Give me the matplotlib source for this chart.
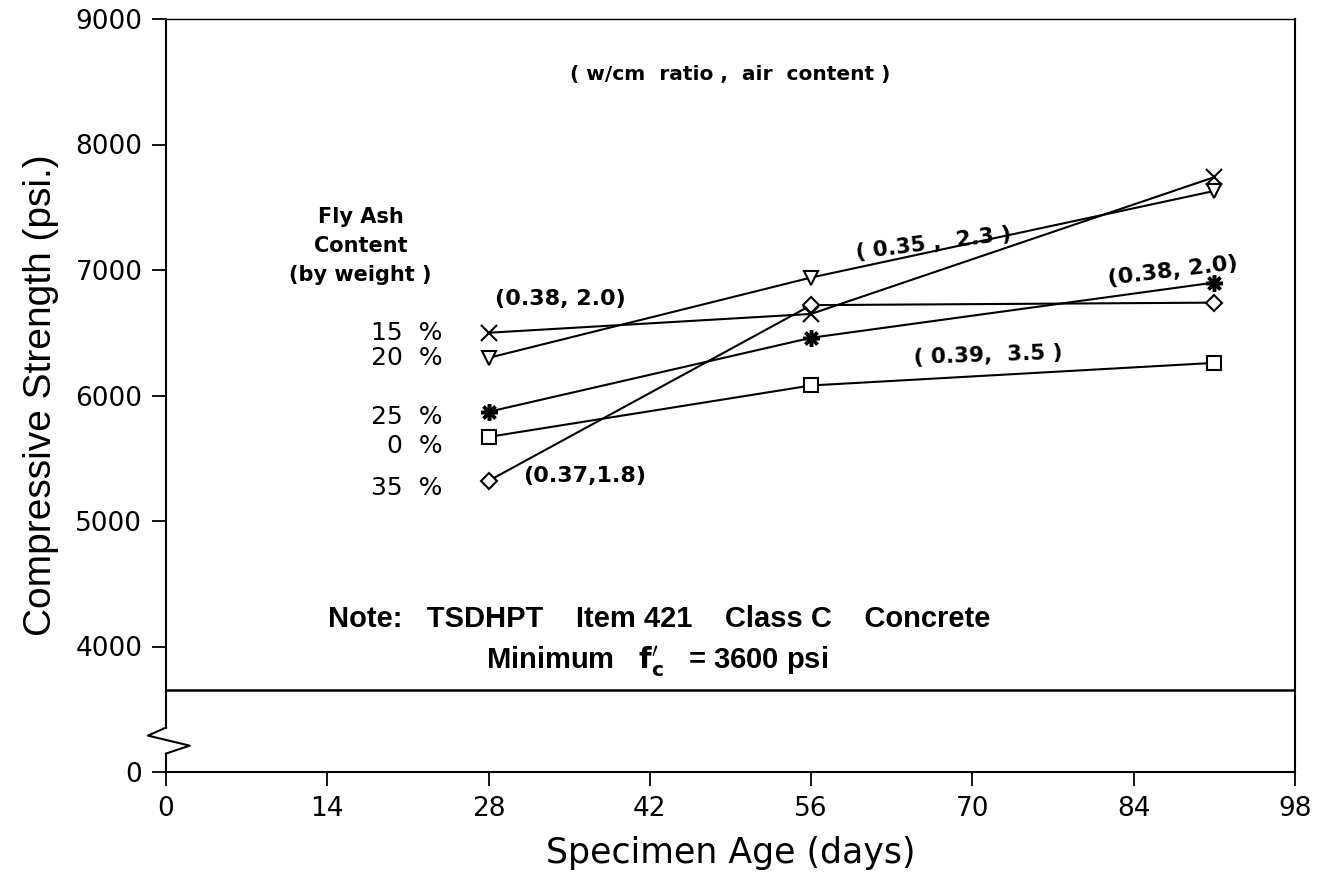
import matplotlib
matplotlib.use("Agg")
import matplotlib.pyplot as plt

# ---------------- data ----------------
days = [28, 56, 91]
fa15 = [6500, 6650, 7740]   # x marker
fa20 = [6300, 6940, 7630]   # triangle
fa25 = [5870, 6460, 6900]   # asterisk
fa0 = [5670, 6080, 6260]    # square
fa35 = [5320, 6720, 6740]   # diamond

series_labels = ["15  %", "20  %", "25  %", "0  %", "35  %"]
label_y = [6500, 6300, 5830, 5600, 5260]

x_ticks = [0, 14, 28, 42, 56, 70, 84, 98]
y_ticks = [3000, 4000, 5000, 6000, 7000, 8000, 9000]
y_ticklabels = ["0", "4000", "5000", "6000", "7000", "8000", "9000"]
min_line = 3650

W, H = 1317, 876
fig = plt.figure(figsize=(W / 100, H / 100), dpi=100)
ax = fig.add_axes([166 / W, 1 - 772 / H, (1295 - 166) / W, (772 - 19) / H])

lw = 1.5
mk = dict(color="black", lw=lw, mfc="white", mec="black", mew=1.5, clip_on=False)
ax.plot(days, fa15, marker="x", ms=11, **mk)
ax.plot(days, fa20, marker="v", ms=10, **mk)
ax.plot(days, fa25, marker=(8, 2, 0), ms=12, mew=2.5, color="black", lw=lw, clip_on=False)
ax.plot(days, fa0, marker="s", ms=10, **mk)
ax.plot(days, fa35, marker="D", ms=8, **mk)

ax.axhline(min_line, color="black", lw=1.8)

ax.set_xlim(0, 98)
ax.set_ylim(3000, 9000)
ax.set_xticks(x_ticks)
ax.set_yticks(y_ticks)
ax.set_yticklabels(y_ticklabels)
ax.tick_params(axis="both", direction="out", length=10, width=1.3, labelsize=19, pad=7)

# spines: custom left spine with break
ax.spines["left"].set_visible(False)
for s in ["right", "bottom"]:
    ax.spines[s].set_linewidth(1.5)
ax.spines["top"].set_linewidth(1.0)
tr = ax.get_yaxis_transform()
ax.plot([0, 0], [9000, 3354], transform=tr, color="black", lw=1.5, clip_on=False)
ax.plot([0, 0], [3147, 3000], transform=tr, color="black", lw=1.5, clip_on=False)
ax.plot([0, -0.016, 0.021, 0], [3354, 3290, 3210, 3147], transform=tr,
        color="black", lw=1.5, clip_on=False)

ax.set_xlabel("Specimen Age (days)", fontsize=25, labelpad=10)
ax.set_ylabel("Compressive Strength (psi.)", fontsize=28, labelpad=12,
              family="Liberation Sans")

# annotations
bold = dict(fontweight="bold", color="black")
ax.text(49, 8560, "( w/cm  ratio ,  air  content )", ha="center", va="center",
        fontsize=14.5, **bold)
ax.text(28.6, 6770, "(0.38, 2.0)", ha="left", va="center", fontsize=16, **bold)
ax.text(31.0, 5360, "(0.37,1.8)", ha="left", va="center", fontsize=16, **bold)
ax.text(66.6, 7210, "( 0.35 ,  2.3 )", ha="center", va="center", rotation=7,
        fontsize=15.5, **bold)
ax.text(71.4, 6320, "( 0.39,  3.5 )", ha="center", va="center", rotation=2,
        fontsize=15.5, **bold)
ax.text(87.4, 6990, "(0.38, 2.0)", ha="center", va="center", rotation=7,
        fontsize=16, **bold)

ax.text(16.9, 7190, "Fly Ash\nContent\n(by weight )", ha="center", va="center",
        fontsize=15, fontweight="bold", linespacing=1.55)
for lab, yy in zip(series_labels, label_y):
    ax.text(24.0, yy, lab, ha="right", va="center", fontsize=18)

note = dict(fontsize=21, fontweight="bold", family="Liberation Sans", color="black")
ax.text(14.1, 4220, "Note:   TSDHPT    Item 421    Class C    Concrete", ha="left", va="center", **note)
ax.text(27.8, 3870, "Minimum   $\\mathbf{f_c^{\\prime}}$   = 3600 psi", ha="left", va="center", **note)

fig.savefig("out.png", dpi=100)
